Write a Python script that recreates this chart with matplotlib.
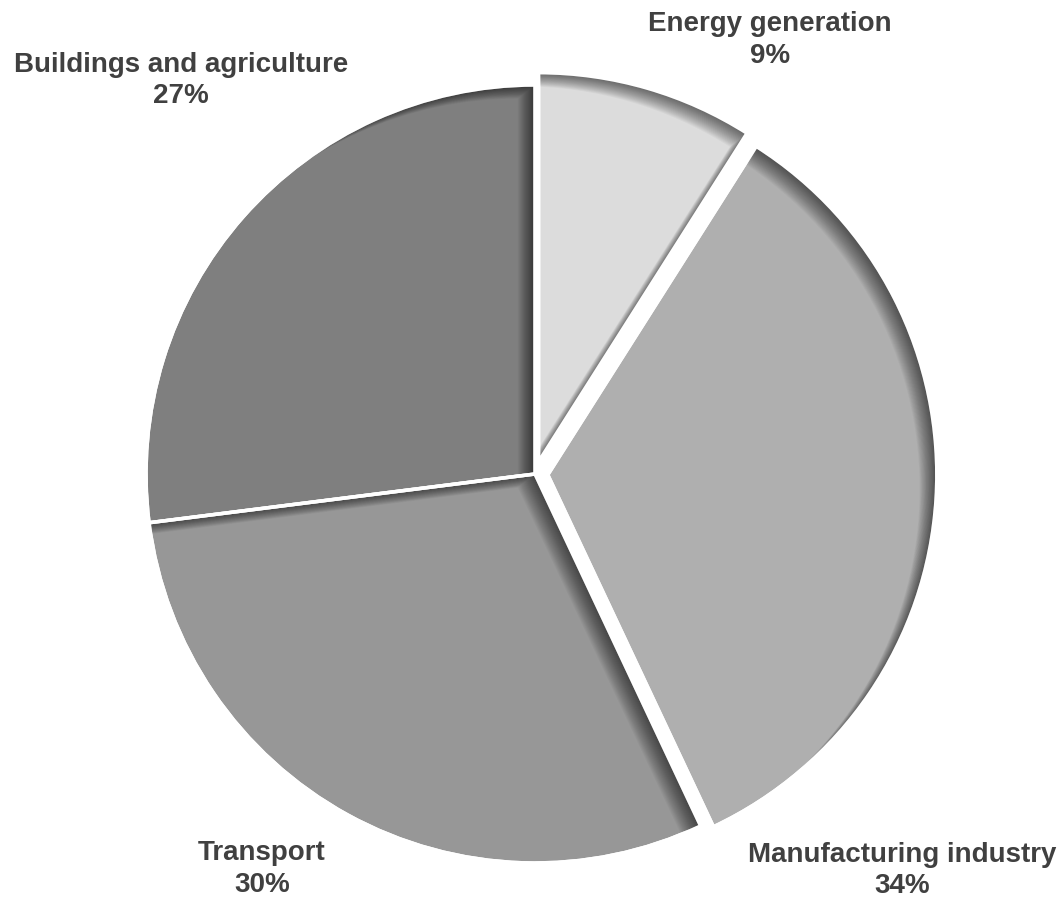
import numpy as np
import matplotlib
matplotlib.use("Agg")
import matplotlib.pyplot as plt
from matplotlib.path import Path
from matplotlib.patches import PathPatch, Wedge

# ---- data ----
categories = ["Energy generation", "Manufacturing industry", "Transport", "Buildings and agriculture"]
shares = [9, 34, 30, 27]
pct_labels = ["9%", "34%", "30%", "27%"]

# ---- styles / layout ----
colors = ["#dcdcdc", "#afafaf", "#979797", "#7f7f7f"]
explode = [0.033, 0.033, 0.0, 0.0]
W, H = 1061, 897
CX, CY, R = 535, 474, 389          # pie centre / radius in image pixels
label_pos = [(770, 31, 63), (902, 862, 893), (262, 860, 892), (181, 72, 103)]  # x, baseline1, baseline2 (image px)
text_color = "#404040"
font = ["Liberation Sans", "DejaVu Sans"]
edge_px = 3.5

fig = plt.figure(figsize=(W / 100, H / 100), dpi=100)
ax = fig.add_axes([0, 0, 1, 1])

wedges, _ = ax.pie(shares, colors=colors, explode=explode, startangle=90,
                   counterclock=False, radius=1.0,
                   wedgeprops=dict(edgecolor="white", linewidth=edge_px * 0.72))

ax.set_xlim(-CX / R, (W - CX) / R)
ax.set_ylim(-(H - CY) / R, CY / R)
ax.set_aspect("equal")
ax.axis("off")

# soft inner shadow (towards top-right edges)
big = 10.0
rect = Path([(-big, -big), (-big, big), (big, big), (big, -big), (-big, -big)],
            [Path.MOVETO, Path.LINETO, Path.LINETO, Path.LINETO, Path.CLOSEPOLY])
dirx, diry = -0.78, -0.62
for w in wedges:
    p = w.get_path()
    for k in range(1, 23):
        off = np.array([dirx, diry]) * k / R
        shifted = Path(p.vertices + off, p.codes)
        comp = Path.make_compound_path(rect, shifted)
        pp = PathPatch(comp, facecolor="black", edgecolor="none", alpha=0.032, zorder=3)
        ax.add_patch(pp)
        pp.set_clip_path(w)
    ew = Wedge(w.center, w.r, w.theta1, w.theta2, fill=False, edgecolor="white",
               linewidth=edge_px * 0.72, zorder=4)
    ax.add_patch(ew)

def px2d(x, y):
    return (x - CX) / R, (CY - y) / R

for cat, pct, (x, b1, b2) in zip(categories, pct_labels, label_pos):
    for txt, b in ((cat, b1), (pct, b2)):
        dx, dy = px2d(x, b)
        ax.text(dx, dy, txt, ha="center", va="baseline", fontsize=20,
                fontweight="bold", color=text_color, family=font, zorder=5)

fig.savefig("out.png", dpi=100)
